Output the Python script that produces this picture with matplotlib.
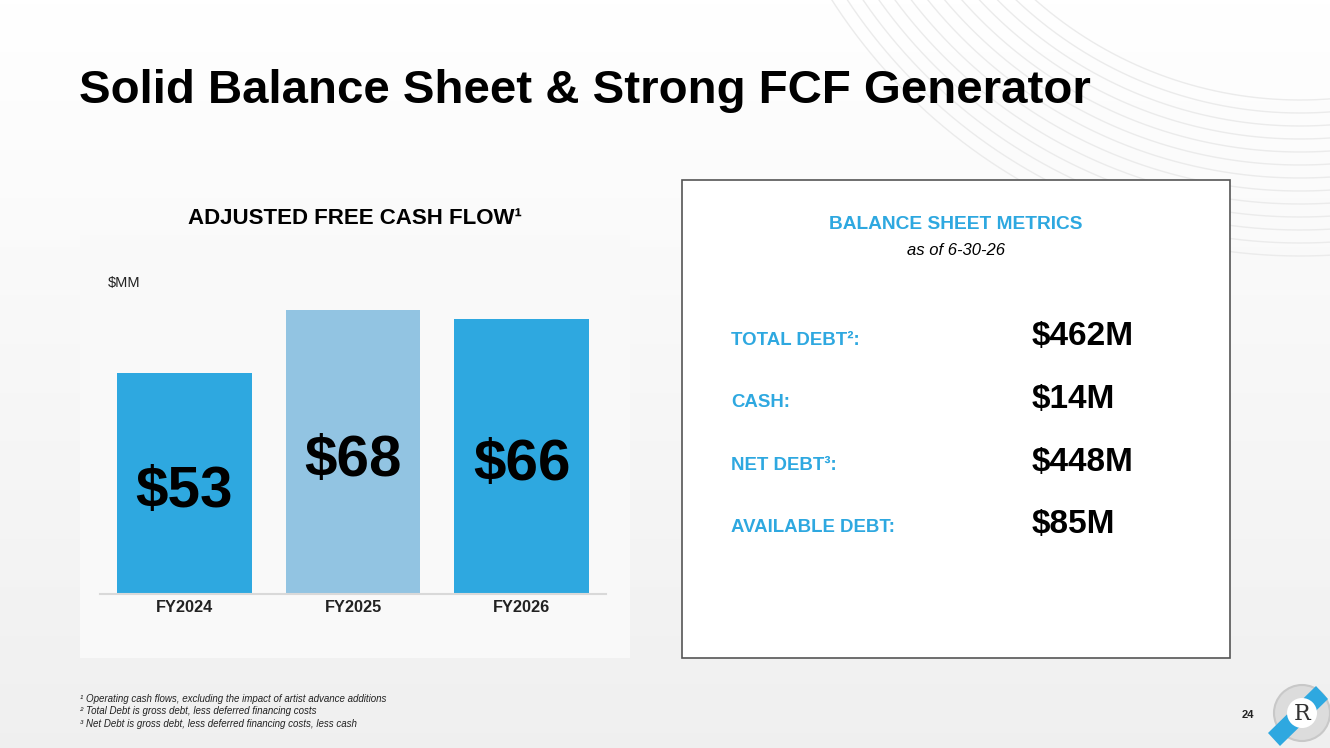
import numpy as np
import matplotlib
matplotlib.use("Agg")
import matplotlib.pyplot as plt
from matplotlib.patches import Rectangle, Circle, Polygon

plt.rcParams["font.family"] = ["Liberation Sans", "DejaVu Sans"]

# ---- data ----
years = ["FY2024", "FY2025", "FY2026"]
fcf = [53, 68, 66]
bar_colors = ["#2EA8E0", "#92C4E2", "#2EA8E0"]

metric_labels = ["TOTAL DEBT\u00b2:", "CASH:", "NET DEBT\u00b3:", "AVAILABLE DEBT:"]
metric_values = ["$462M", "$14M", "$448M", "$85M"]

footnotes = [
    "\u00b9 Operating cash flows, excluding the impact of artist advance additions",
    "\u00b2 Total Debt is gross debt, less deferred financing costs",
    "\u00b3 Net Debt is gross debt, less deferred financing costs, less cash",
]

W, H = 1330, 748
BLUE = "#2EA8E0"

fig = plt.figure(figsize=(W / 100, H / 100), dpi=100)

# background in pixel coords (y down)
bg = fig.add_axes([0, 0, 1, 1], zorder=-10)
bg.axis("off")
grad = np.linspace(1.0, 0.94, 200).reshape(-1, 1)
bg.imshow(np.dstack([grad, grad, grad]), extent=[0, W, H, 0], aspect="auto", zorder=0)

# faint concentric arcs top right
t = np.linspace(0, 2 * np.pi, 600)
for k in range(13):
    r = 400 + k * 13
    bg.plot(1300 + r * np.cos(t), -300 + r * np.sin(t), color="#ebebeb", lw=1.0, zorder=1)
bg.set_xlim(0, W)
bg.set_ylim(H, 0)

# chart panel
bg.add_patch(Rectangle((80, 235), 550, 423, facecolor="#f9f9f9", edgecolor="none", zorder=2))

# right box
bg.add_patch(Rectangle((682, 180), 548, 478, facecolor="white", edgecolor="#555555", lw=1.2, zorder=2))

# title
bg.text(79, 91, "Solid Balance Sheet & Strong FCF Generator", fontsize=34.1, fontweight="bold",
        ha="left", va="center", color="black", zorder=3)

# chart heading
bg.text(355, 218, "ADJUSTED FREE CASH FLOW\u00b9", fontsize=16, fontweight="bold",
        ha="center", va="center", color="black", zorder=3)
bg.text(108, 283, "$MM", fontsize=10.5, ha="left", va="center", color="#222222", zorder=3)

# bar chart
baseline_px = 594
px_per_unit = 4.17
ylim_top = 80
ax_top_px = baseline_px - ylim_top * px_per_unit
ax = fig.add_axes([100 / W, (H - baseline_px) / H, 506 / W, (baseline_px - ax_top_px) / H])
ax.patch.set_alpha(0)
x = np.arange(len(years))
bars = ax.bar(x, fcf, width=0.8, color=bar_colors, zorder=2)
ax.set_xlim(-0.5, 2.5)
ax.set_ylim(0, ylim_top)
for s in ["top", "right", "left"]:
    ax.spines[s].set_visible(False)
ax.spines["bottom"].set_color("#d9d9d9")
ax.spines["bottom"].set_linewidth(1.5)
ax.set_yticks([])
ax.set_xticks(x)
ax.set_xticklabels(years, fontsize=11.8, fontweight="bold", color="#222222")
ax.tick_params(axis="x", length=0, pad=4)
for xi, v in zip(x, fcf):
    ax.text(xi, v / 2 - 2, f"${v}", ha="center", va="center", fontsize=42,
            fontweight="bold", color="black", zorder=3)

# balance sheet metrics
bg.text(956, 224, "BALANCE SHEET METRICS", fontsize=13.8, fontweight="bold", color=BLUE,
        ha="center", va="center", zorder=3)
bg.text(956, 250, "as of 6-30-26", fontsize=12, style="italic", color="black",
        ha="center", va="center", zorder=3)
label_y = [340, 402, 465, 528]
value_y = [336, 399, 462, 524]
for lab, val, ly, vy in zip(metric_labels, metric_values, label_y, value_y):
    bg.text(731, ly, lab, fontsize=13.4, fontweight="bold", color=BLUE,
            ha="left", va="center", zorder=3)
    bg.text(1032, vy, val, fontsize=24, fontweight="bold", color="black",
            ha="left", va="center", zorder=3)

# footnotes
for i, fn in enumerate(footnotes):
    bg.text(80, 699 + i * 12.3, fn, fontsize=7, style="italic", color="#222222",
            ha="left", va="center", zorder=3)

# page number
bg.text(1248, 715, "24", fontsize=8, fontweight="bold", color="#222222",
        ha="center", va="center", zorder=3)

# logo
bg.add_patch(Circle((1302, 713), 28, facecolor="#dcdcdc", edgecolor="#c8c8c8", lw=1.5, zorder=3))
bg.add_patch(Polygon([(1268, 733), (1280, 746), (1328, 699), (1316, 686)],
                     facecolor=BLUE, edgecolor="none", zorder=4))
bg.add_patch(Circle((1302, 713), 15, facecolor="white", edgecolor="none", zorder=5))
bg.text(1302, 714, "R", fontsize=16, family="DejaVu Serif", color="#333333",
        ha="center", va="center", zorder=6)

fig.savefig("out.png", dpi=100)
